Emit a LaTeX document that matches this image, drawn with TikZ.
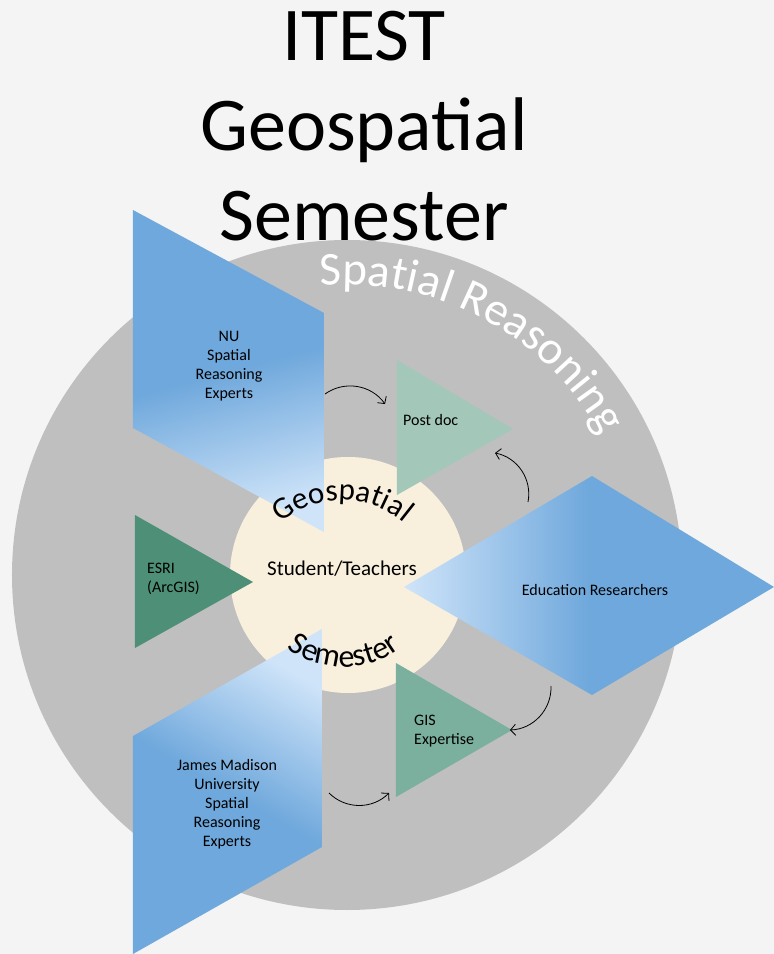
\documentclass[tikz,border=0pt]{standalone}
\usepackage{fontspec}
\setmainfont{Carlito}
\usetikzlibrary{arrows.meta}
\usetikzlibrary{decorations.text}

\definecolor{paper}{HTML}{F4F4F4}
\definecolor{ringgray}{HTML}{BFBFBF}
\definecolor{cream}{HTML}{F8F0DC}
\definecolor{deepblue}{HTML}{6FA8DC}
\definecolor{paleblue}{HTML}{CFE4F9}
\definecolor{mint}{HTML}{A3C7B9}
\definecolor{pine}{HTML}{4E9077}
\definecolor{sage}{HTML}{7BB09E}

\tikzset{
  lbl/.style={font=\fontsize{16}{19}\selectfont, inner sep=0pt},
  flow/.style={-{Straight Barb[length=5pt,width=11pt]}, line width=0.8pt}
}

\begin{document}
\begin{tikzpicture}[x=1pt,y=1pt]
\useasboundingbox (-347,-379) rectangle (427,575);
\fill[paper] (-347,-379) rectangle (427,575);
\fill[ringgray] (0,0) circle[radius=335];
\path[decorate, decoration={text along path, text align=center,
      text={|\fontsize{47}{47}\selectfont\color{white}|Spatial Reasoning}}]
  (101:290) arc[start angle=101, end angle=23, radius=290];
\fill[cream] (1,0) circle[radius=118];

\shade[top color=deepblue, bottom color=paleblue, middle color=deepblue, shading angle=15]
     (-214,365) -- (-23,262) -- (-23,43) -- (-214,147) -- cycle;
\fill[mint]  (50,215) -- (166,146) -- (50,80) -- cycle;
\fill[pine]  (-212,60) -- (-94,-7) -- (-212,-73) -- cycle;
\shade[left color=paleblue, right color=deepblue, middle color=deepblue]
     (57,-12) -- (245,99) -- (427,-12) -- (245,-120) -- cycle;
\fill[sage]  (49,-88) -- (165,-155) -- (49,-222) -- cycle;
\shade[top color=paleblue, bottom color=deepblue, middle color=deepblue, shading angle=-30]
     (-25,-54) -- (-25,-272) -- (-214,-379) -- (-214,-161) -- cycle;

\path[decorate, decoration={text along path, text align=center,
      text={|\fontsize{31}{31}\selectfont|Geospatial}}]
  (-5,-20) ++(145:95) arc[start angle=145, end angle=35, radius=95];
\path[decorate, decoration={text along path, text align=center,
      text={|\fontsize{32}{32}\selectfont|Semester}}]
  (-3,2) ++(220:94) arc[start angle=220, end angle=320, radius=94];

\node[font=\fontsize{76}{90}\selectfont, align=center, inner sep=0pt] (title) at (17,449)
  {ITEST\\Geospatial\\Semester};
\node[lbl, align=center] (nu) at (-118,209) {NU\\Spatial\\Reasoning\\Experts};
\node[lbl, anchor=west] (postdoc) at (56,155) {Post doc};
\node[lbl, anchor=west, align=left] (esri) at (-200,-4) {ESRI\\(ArcGIS)};
\node[font=\fontsize{21}{25}\selectfont, inner sep=0pt] (students) at (-5,6) {Student/Teachers};
\node[lbl] (edu) at (248,-15) {Education Researchers};
\node[lbl, anchor=west, align=left] (gis) at (67,-156) {GIS\\Expertise};
\node[lbl, align=center] (jmu) at (-120,-229) {James Madison\\University\\Spatial\\Reasoning\\Experts};

\coordinate (nuout) at (-22,181);
\coordinate (pdleft) at (38,171);
\coordinate (eduup) at (181,73);
\coordinate (pdright) at (148,122);
\coordinate (edudown) at (204,-111);
\coordinate (gisright) at (163,-155);
\coordinate (jmuout) at (-18,-218);
\coordinate (gisleft) at (42,-218);
\draw[flow] (nuout) to[bend left=45] (pdleft);
\draw[flow] (eduup) to[bend right=45] (pdright);
\draw[flow] (edudown) to[bend left=45] (gisright);
\draw[flow] (jmuout) to[bend right=45] (gisleft);
\end{tikzpicture}
\end{document}
